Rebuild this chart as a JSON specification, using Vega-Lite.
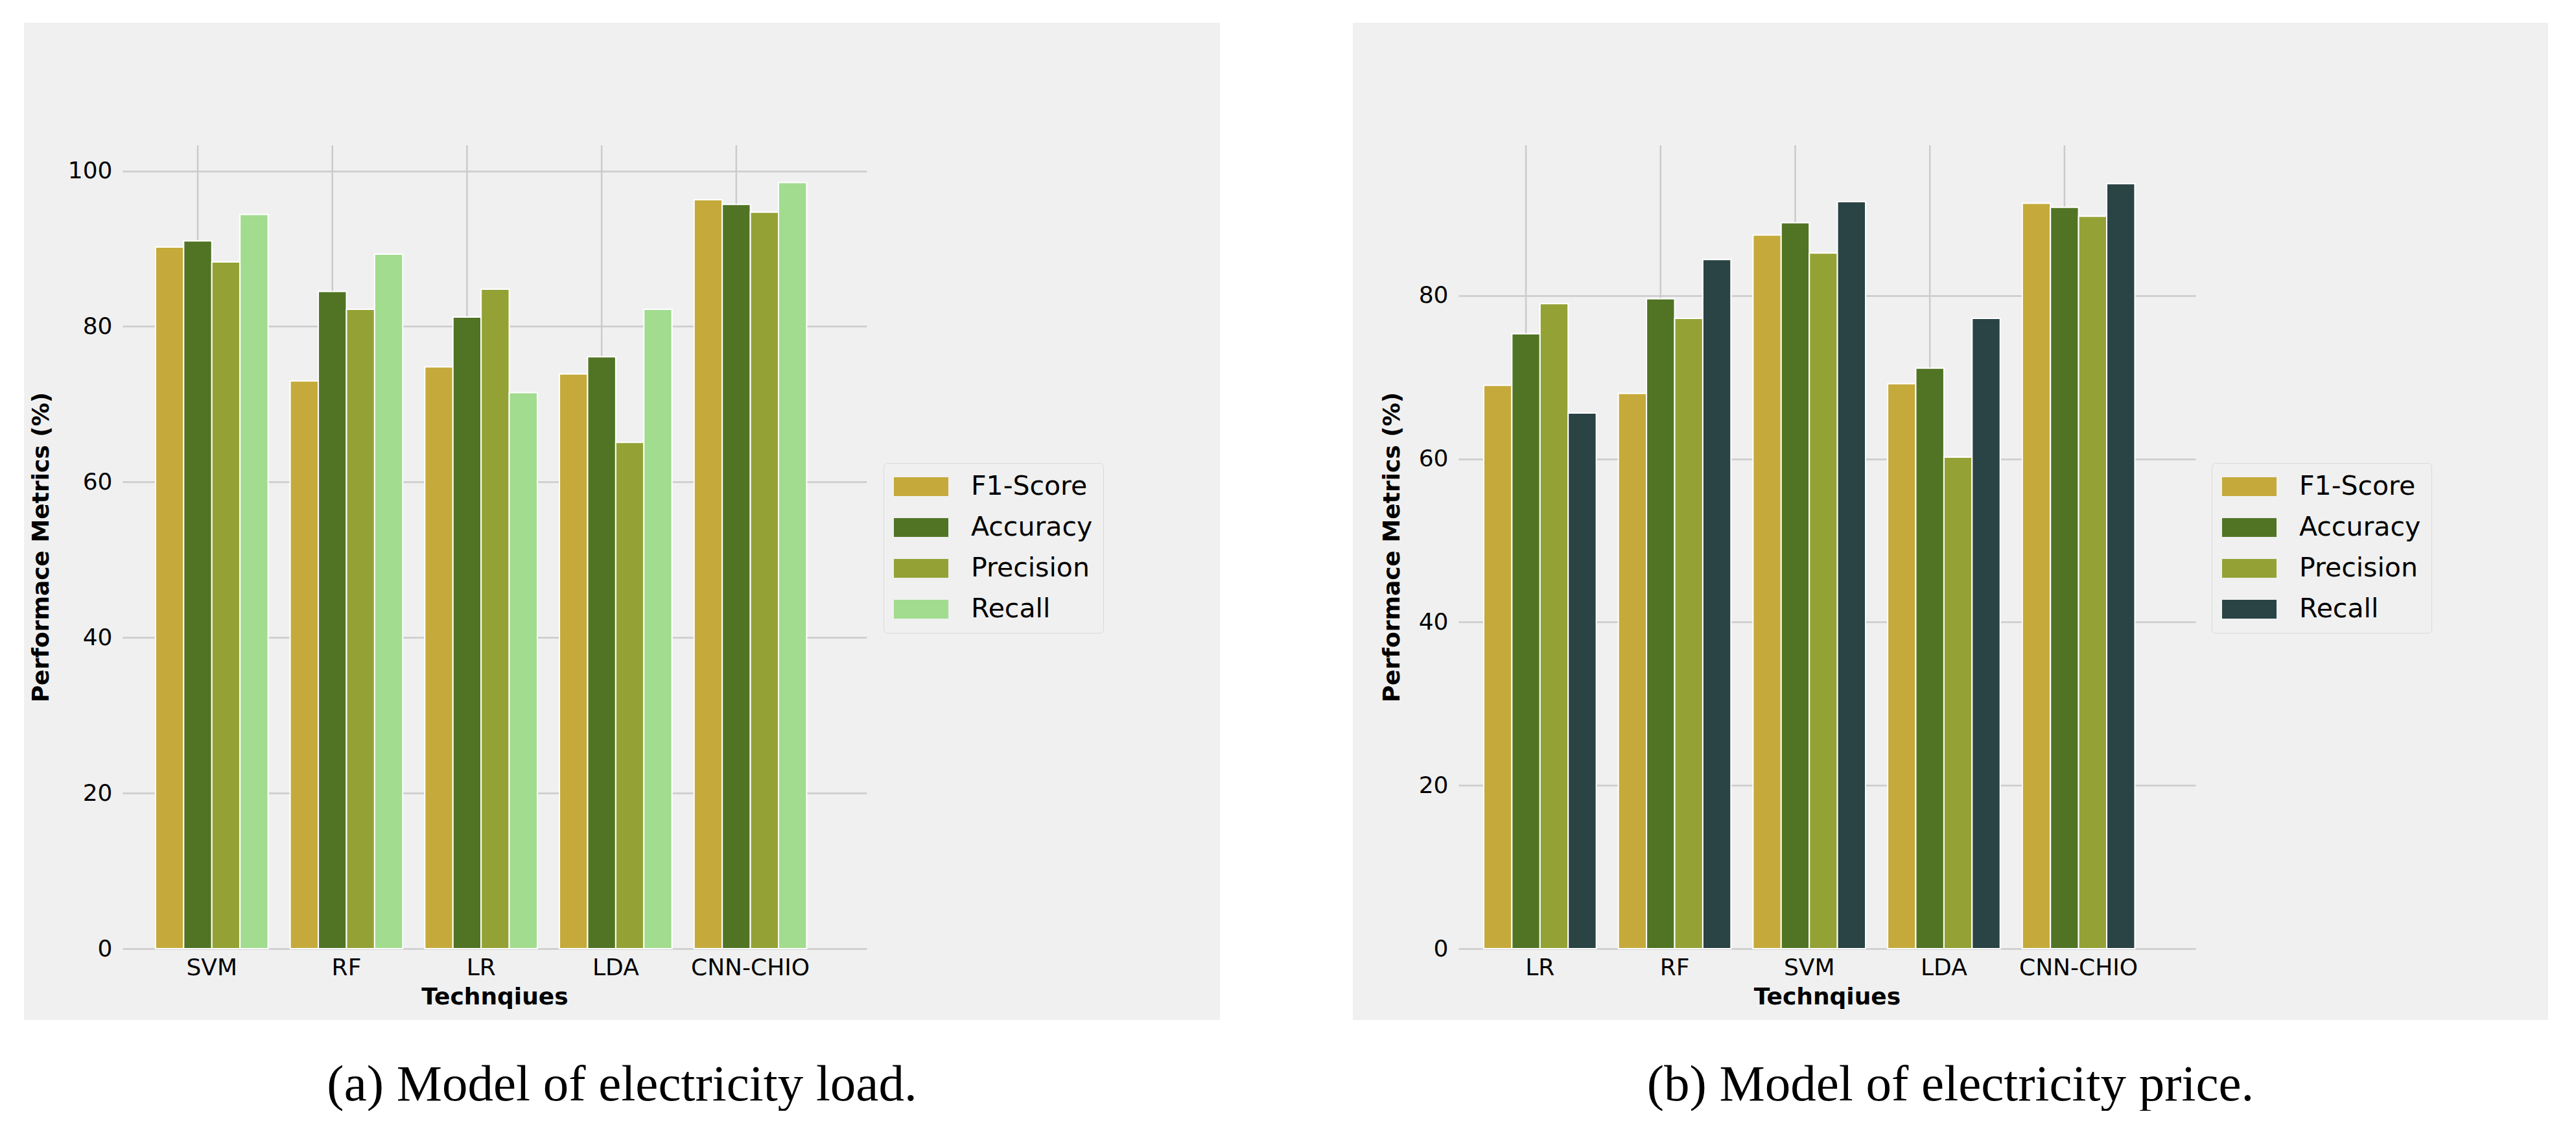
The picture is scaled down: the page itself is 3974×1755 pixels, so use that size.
{
  "$schema": "https://vega.github.io/schema/vega-lite/v6.json",
  "background": "white",
  "padding": {"left": 37, "top": 35, "right": 0, "bottom": 0},
  "spacing": 205,
  "config": {
    "view": {"fill": "#f0f0f0", "stroke": null},
    "font": "DejaVu Sans",
    "axis": {
      "labelFont": "DejaVu Sans", "labelFontSize": 36, "labelColor": "#000000", "labelLimit": 600, "labelOverlap": false,
      "titleFont": "DejaVu Sans", "titleFontSize": 36, "titleFontWeight": "bold", "titleColor": "#000000",
      "gridColor": "#cbcbcb", "gridWidth": 2.5, "domain": false, "ticks": false
    },
    "legend": {
      "labelFont": "DejaVu Sans", "labelFontSize": 41, "labelColor": "#000000", "labelOffset": 35, "labelLimit": 600,
      "symbolType": "M-1,-0.345H1V0.345H-1Z", "symbolSize": 7056, "symbolStrokeWidth": 0,
      "clipHeight": 41, "rowPadding": 21, "padding": 16, "strokeColor": "#d9d9d9", "fillColor": "#f0f0f0",
      "cornerRadius": 6, "direction": "vertical"
    }
  },
  "datasets": {
    "load": [
      {"Technique": "SVM", "Metric": "F1-Score", "Value": 90.2},
      {"Technique": "SVM", "Metric": "Accuracy", "Value": 91.0},
      {"Technique": "SVM", "Metric": "Precision", "Value": 88.3},
      {"Technique": "SVM", "Metric": "Recall", "Value": 94.4},
      {"Technique": "RF", "Metric": "F1-Score", "Value": 73.0},
      {"Technique": "RF", "Metric": "Accuracy", "Value": 84.5},
      {"Technique": "RF", "Metric": "Precision", "Value": 82.2},
      {"Technique": "RF", "Metric": "Recall", "Value": 89.3},
      {"Technique": "LR", "Metric": "F1-Score", "Value": 74.8},
      {"Technique": "LR", "Metric": "Accuracy", "Value": 81.2},
      {"Technique": "LR", "Metric": "Precision", "Value": 84.8},
      {"Technique": "LR", "Metric": "Recall", "Value": 71.5},
      {"Technique": "LDA", "Metric": "F1-Score", "Value": 73.9},
      {"Technique": "LDA", "Metric": "Accuracy", "Value": 76.1},
      {"Technique": "LDA", "Metric": "Precision", "Value": 65.1},
      {"Technique": "LDA", "Metric": "Recall", "Value": 82.2},
      {"Technique": "CNN-CHIO", "Metric": "F1-Score", "Value": 96.3},
      {"Technique": "CNN-CHIO", "Metric": "Accuracy", "Value": 95.7},
      {"Technique": "CNN-CHIO", "Metric": "Precision", "Value": 94.7},
      {"Technique": "CNN-CHIO", "Metric": "Recall", "Value": 98.5}
    ],
    "price": [
      {"Technique": "LR", "Metric": "F1-Score", "Value": 69.0},
      {"Technique": "LR", "Metric": "Accuracy", "Value": 75.3},
      {"Technique": "LR", "Metric": "Precision", "Value": 79.0},
      {"Technique": "LR", "Metric": "Recall", "Value": 65.6},
      {"Technique": "RF", "Metric": "F1-Score", "Value": 68.0},
      {"Technique": "RF", "Metric": "Accuracy", "Value": 79.6},
      {"Technique": "RF", "Metric": "Precision", "Value": 77.2},
      {"Technique": "RF", "Metric": "Recall", "Value": 84.4},
      {"Technique": "SVM", "Metric": "F1-Score", "Value": 87.4},
      {"Technique": "SVM", "Metric": "Accuracy", "Value": 88.9},
      {"Technique": "SVM", "Metric": "Precision", "Value": 85.2},
      {"Technique": "SVM", "Metric": "Recall", "Value": 91.5},
      {"Technique": "LDA", "Metric": "F1-Score", "Value": 69.2},
      {"Technique": "LDA", "Metric": "Accuracy", "Value": 71.1},
      {"Technique": "LDA", "Metric": "Precision", "Value": 60.2},
      {"Technique": "LDA", "Metric": "Recall", "Value": 77.2},
      {"Technique": "CNN-CHIO", "Metric": "F1-Score", "Value": 91.3},
      {"Technique": "CNN-CHIO", "Metric": "Accuracy", "Value": 90.8},
      {"Technique": "CNN-CHIO", "Metric": "Precision", "Value": 89.7},
      {"Technique": "CNN-CHIO", "Metric": "Recall", "Value": 93.7}
    ]
  },
  "hconcat": [
    {
      "width": 1845, "height": 1538,
      "data": {"name": "load"},
      "title": {"text": "(a) Model of electricity load.", "orient": "bottom", "anchor": "middle", "frame": "group", "baseline": "alphabetic", "offset": 124, "font": "Liberation Serif", "fontSize": 79, "fontWeight": "normal", "color": "#000000"},
      "encoding": {
        "x": {"field": "Technique", "type": "nominal", "sort": ["SVM", "RF", "LR", "LDA", "CNN-CHIO"],
          "scale": {"range": [152, 1300], "paddingInner": 0.164, "paddingOuter": 0.3456, "align": 0.355},
          "axis": {"title": "Technqiues", "labelAngle": 0, "bandPosition": 0.375, "offset": -110, "labelPadding": 12, "titlePadding": 10, "grid": false, "labelLimit": 600}},
        "xOffset": {"field": "Metric", "type": "nominal", "sort": ["F1-Score", "Accuracy", "Precision", "Recall"], "scale": {"paddingInner": 0, "paddingOuter": 0}}
      },
      "layer": [
        {
          "transform": [{"filter": "datum.Metric === 'Accuracy'"}],
          "mark": {"type": "rule", "color": "#cbcbcb", "strokeWidth": 2.5},
          "encoding": {"y": {"datum": 0, "type": "quantitative"}, "y2": {"datum": 103.3}}
        },
        {
          "mark": {"type": "bar", "stroke": "white", "strokeWidth": 2},
          "encoding": {
            "y": {"field": "Value", "type": "quantitative",
              "scale": {"domain": [0, 103.3], "range": [1428, 189], "nice": false},
              "axis": {"title": "Performace Metrics (%)", "values": [0, 20, 40, 60, 80, 100], "offset": -152, "labelPadding": 16, "titlePadding": 22, "grid": true}},
            "color": {"field": "Metric", "type": "nominal",
              "scale": {"domain": ["F1-Score", "Accuracy", "Precision", "Recall"], "range": ["#c5aa3b", "#507424", "#94a235", "#a1dc8f"]},
              "legend": {"title": null, "orient": "none", "legendX": 1326, "legendY": 679}}
          }
        }
      ]
    },
    {
      "width": 1844, "height": 1538,
      "data": {"name": "price"},
      "title": {"text": "(b) Model of electricity price.", "orient": "bottom", "anchor": "middle", "frame": "group", "baseline": "alphabetic", "offset": 124, "font": "Liberation Serif", "fontSize": 79, "fontWeight": "normal", "color": "#000000"},
      "encoding": {
        "x": {"field": "Technique", "type": "nominal", "sort": ["LR", "RF", "SVM", "LDA", "CNN-CHIO"],
          "scale": {"range": [163, 1300], "paddingInner": 0.164, "paddingOuter": 0.319, "align": 0.294},
          "axis": {"title": "Technqiues", "labelAngle": 0, "bandPosition": 0.375, "offset": -110, "labelPadding": 12, "titlePadding": 10, "grid": false, "labelLimit": 600}},
        "xOffset": {"field": "Metric", "type": "nominal", "sort": ["F1-Score", "Accuracy", "Precision", "Recall"], "scale": {"paddingInner": 0, "paddingOuter": 0}}
      },
      "layer": [
        {
          "transform": [{"filter": "datum.Metric === 'Accuracy'"}],
          "mark": {"type": "rule", "color": "#cbcbcb", "strokeWidth": 2.5},
          "encoding": {"y": {"datum": 0, "type": "quantitative"}, "y2": {"datum": 98.4}}
        },
        {
          "mark": {"type": "bar", "stroke": "white", "strokeWidth": 2},
          "encoding": {
            "y": {"field": "Value", "type": "quantitative",
              "scale": {"domain": [0, 98.4], "range": [1428, 189], "nice": false},
              "axis": {"title": "Performace Metrics (%)", "values": [0, 20, 40, 60, 80], "offset": -163, "labelPadding": 16, "titlePadding": 22, "grid": true}},
            "color": {"field": "Metric", "type": "nominal",
              "scale": {"domain": ["F1-Score", "Accuracy", "Precision", "Recall"], "range": ["#c5aa3b", "#507424", "#94a235", "#2a4344"]},
              "legend": {"title": null, "orient": "none", "legendX": 1325, "legendY": 679}}
          }
        }
      ]
    }
  ],
  "resolve": {"scale": {"color": "independent", "x": "independent", "y": "independent"}, "legend": {"color": "independent"}}
}
